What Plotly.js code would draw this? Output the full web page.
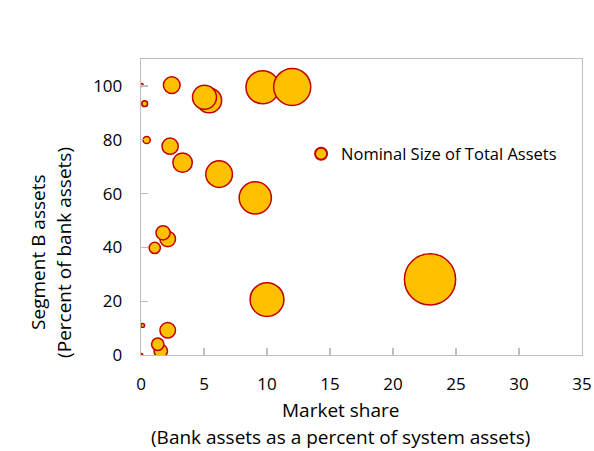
<!DOCTYPE html>
<html>
<head>
<meta charset="utf-8">
<script src="https://cdn.plot.ly/plotly-3.0.1.min.js"></script>
<style>html,body{margin:0;padding:0;background:#fff;}#chart{width:594px;height:451px;}</style>
</head>
<body>
<div id="chart"></div>
<script>
// Market share (bank assets as % of system assets)
const marketShare = [0.05, 2.44, 5.41, 5.04, 0.29, 0.45, 2.31, 3.3, 6.2, 9.07, 9.65, 12.0, 2.12, 1.75, 1.09, 0.13, 2.12, 1.57, 1.33, 0.02, 10.0, 22.94];
// Segment B assets (% of bank assets)
const segmentB = [100.3, 100.3, 94.6, 95.8, 93.4, 79.9, 77.6, 71.5, 67.2, 58.4, 99.5, 99.6, 43.1, 45.4, 39.8, 11.0, 9.2, 1.5, 4.0, 0.0, 20.6, 28.1];
// Nominal size of total assets (relative)
const totalAssets = [0.05, 2.44, 5.41, 5.04, 0.29, 0.45, 2.31, 3.3, 6.2, 9.07, 9.65, 12.0, 2.12, 1.75, 1.09, 0.13, 2.12, 1.57, 1.33, 0.02, 10.0, 22.94];
const xTicks = [0, 5, 10, 15, 20, 25, 30, 35];
const yTicks = [0, 20, 40, 60, 80, 100];

const trace = {
  type: 'scatter', mode: 'markers',
  x: marketShare, y: segmentB,
  name: 'Nominal Size of Total Assets',
  marker: {
    size: totalAssets, sizemode: 'area', sizeref: 0.0175, sizemin: 1.5,
    color: '#FFC000', line: {color: '#C00000', width: 1.5}, opacity: 1
  },
  showlegend: true, hoverinfo: 'none'
};

const axisCommon = {
  showgrid: false, zeroline: false, showline: true, mirror: true,
  linecolor: '#BFBFBF', linewidth: 1.3,
  ticks: 'inside', ticklen: 7, tickcolor: '#BFBFBF', tickwidth: 1.3,
  tickfont: {size: 17, color: '#000'}
};

const layout = {
  width: 594, height: 451,
  margin: {l: 141, r: 12, t: 59, b: 96},
  paper_bgcolor: '#fff', plot_bgcolor: '#fff',
  font: {family: 'Open Sans, Noto Sans, sans-serif', color: '#000'},
  xaxis: Object.assign({}, axisCommon, {range: [0, 35], tickvals: xTicks, ticktext: xTicks.map(String), ticklabelstandoff: 13}),
  yaxis: Object.assign({}, axisCommon, {range: [0, 110], tickvals: yTicks, ticktext: yTicks.map(String), ticklabelstandoff: 14}),
  showlegend: true,
  legend: {x: 0.363, y: 0.679, xanchor: 'left', yanchor: 'middle', bgcolor: 'rgba(0,0,0,0)',
           font: {size: 16.5, color: '#000'}, itemsizing: 'constant'},
  annotations: [
    {text: 'Market share', xref: 'paper', yref: 'paper', x: 0.4535, y: 0, yshift: -55, xanchor: 'center', yanchor: 'middle', showarrow: false, font: {size: 19}},
    {text: '(Bank assets as a percent of system assets)', xref: 'paper', yref: 'paper', x: 0.4535, y: 0, yshift: -82, xanchor: 'center', yanchor: 'middle', showarrow: false, font: {size: 19}},
    {text: 'Segment B assets', xref: 'paper', yref: 'paper', x: 0, xshift: -103, y: 0.345, textangle: -90, xanchor: 'center', yanchor: 'middle', showarrow: false, font: {size: 19}},
    {text: '(Percent of bank assets)', xref: 'paper', yref: 'paper', x: 0, xshift: -77, y: 0.345, textangle: -90, xanchor: 'center', yanchor: 'middle', showarrow: false, font: {size: 19}}
  ]
};

Plotly.newPlot('chart', [trace], layout, {displayModeBar: false, staticPlot: true});
</script>
</body>
</html>
